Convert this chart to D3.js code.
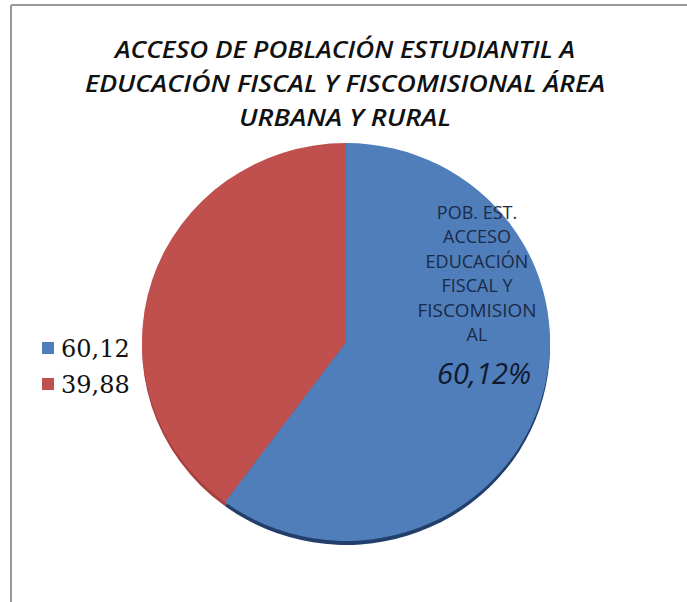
<!DOCTYPE html>
<html><head><meta charset="utf-8">
<script src="https://cdn.jsdelivr.net/npm/d3@7"></script>
<style>body{margin:0;background:#fff}svg{display:block}</style>
</head><body>
<script>
const categories = ["POB. EST. ACCESO EDUCACIÓN FISCAL Y FISCOMISIONAL", "OTROS"];
const values = [60.12, 39.88];
const legendLabels = ["60,12", "39,88"];
const colors = ["#4F7EBA", "#C0504D"];
const shadowColors = ["#223f6b", "#a8403d"];
const titleLines = ["ACCESO DE POBLACIÓN ESTUDIANTIL A", "EDUCACIÓN FISCAL Y FISCOMISIONAL ÁREA", "URBANA Y RURAL"];
const dataLabelLines = ["POB. EST.", "ACCESO", "EDUCACIÓN", "FISCAL Y", "FISCOMISION", "AL"];
const dataLabelValue = "60,12%";

const W = 687, H = 602;
const svg = d3.select("body").append("svg").attr("width", W).attr("height", H);

// frame
svg.append("line").attr("x1",11).attr("y1",5).attr("x2",W).attr("y2",5).attr("stroke","#9a9a9a").attr("stroke-width",2);
svg.append("line").attr("x1",11).attr("y1",5).attr("x2",11).attr("y2",H).attr("stroke","#9a9a9a").attr("stroke-width",2);

// title
const titleW = [460, 520, 212];
svg.selectAll("text.title").data(titleLines).join("text")
  .attr("class","title")
  .attr("x", 345).attr("y", (d,i)=>58 + i*34)
  .attr("text-anchor","middle")
  .attr("font-family","'Open Sans', sans-serif")
  .attr("font-weight",600).attr("font-style","italic")
  .attr("font-size",23)
  .attr("textLength",(d,i)=>titleW[i]).attr("lengthAdjust","spacingAndGlyphs")
  .attr("fill","#111")
  .text(d=>d);

// pie
const cx = 346, cy = 342, R = 204;
const pie = d3.pie().sort(null).startAngle(0).endAngle(2*Math.PI);
const arcs = pie(values);
const arc = d3.arc().innerRadius(0).outerRadius(R);

const shadow = svg.append("g").attr("transform", `translate(${cx},${cy+4}) scale(1,0.975)`);
shadow.selectAll("path").data(arcs).join("path").attr("d", arc).attr("fill",(d,i)=>shadowColors[i]);

const g = svg.append("g").attr("transform", `translate(${cx},${cy}) scale(1,0.975)`);
g.selectAll("path").data(arcs).join("path").attr("d", arc).attr("fill",(d,i)=>colors[i]);

// data label
const lab = svg.append("g");
lab.selectAll("text").data(dataLabelLines).join("text")
  .attr("x", 477).attr("y",(d,i)=>219 + i*24.4)
  .attr("text-anchor","middle")
  .attr("font-family","'Open Sans', sans-serif")
  .attr("font-size",18)
  .attr("fill","#1b2a48")
  .attr("textLength", d => d==="FISCOMISION" ? 119 : null)
  .attr("lengthAdjust","spacingAndGlyphs")
  .text(d=>d);
lab.append("text").attr("x",484).attr("y",384)
  .attr("text-anchor","middle")
  .attr("font-family","'Open Sans', sans-serif")
  .attr("font-style","italic")
  .attr("font-size",29)
  .attr("fill","#111a30")
  .text(dataLabelValue);

// legend
const leg = svg.append("g");
leg.selectAll("rect").data(legendLabels).join("rect")
  .attr("x",42).attr("y",(d,i)=>342 + i*36).attr("width",12).attr("height",12)
  .attr("fill",(d,i)=>colors[i]);
leg.selectAll("text").data(legendLabels).join("text")
  .attr("x",61).attr("y",(d,i)=>357 + i*36)
  .attr("font-family","'DejaVu Serif', serif")
  .attr("font-size",24)
  .attr("fill","#111")
  .text(d=>d);
</script>
</body></html>
